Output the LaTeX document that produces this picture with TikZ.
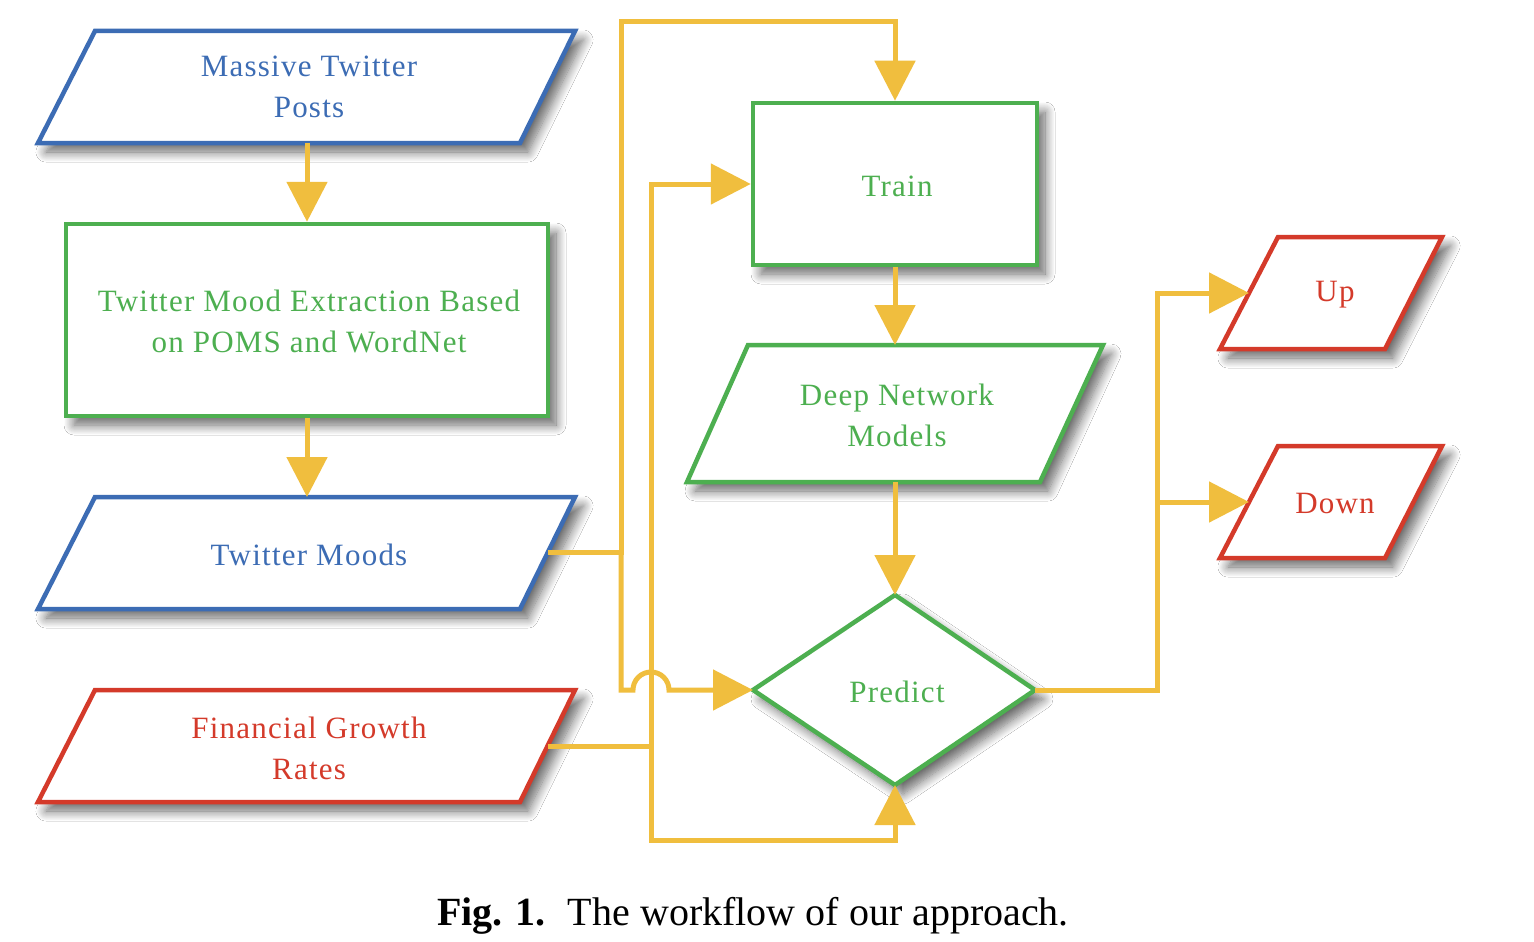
\documentclass[tikz,border=0pt]{standalone}
\usepackage{fontspec}
\setmainfont{Liberation Serif}
\usetikzlibrary{arrows.meta,shadows.blur}
\definecolor{cy}{HTML}{F0BE3E}
\definecolor{cb}{HTML}{3C6CB4}
\definecolor{cg}{HTML}{4DAF50}
\definecolor{cr}{HTML}{D43A2A}
\tikzset{
  shp/.style={line width=4.5pt, fill=white, line join=miter,
    blur shadow={shadow xshift=8pt, shadow yshift=-9pt, shadow blur radius=10pt, shadow blur steps=12, shadow opacity=60}},
  lbl/.style={font=\fontsize{31}{41}\selectfont\addfontfeature{LetterSpace=4}, align=center, inner sep=0pt},
  conn/.style={draw=cy, line width=5pt},
  arr/.style={conn, -{Triangle[length=40pt,width=40pt]}}
}
\begin{document}
\begin{tikzpicture}[x=1pt,y=-1pt]
\useasboundingbox[fill=white] (0,0) rectangle (1534,942);
% shapes
\draw[shp, draw=cb] (95,31) -- (575,31) -- (520,143) -- (38,143) -- cycle;
\node[lbl, text=cb] (mtp) at (309,87) {Massive Twitter\\Posts};
\node[shp, draw=cg, minimum width=482pt, minimum height=192pt, inner sep=0pt] (ext) at (307,320) {};
\node[lbl, text=cg] (extt) at (309,321) {Twitter Mood Extraction Based\\on POMS and WordNet};
\draw[shp, draw=cb] (95,497) -- (575,497) -- (520,609) -- (38,609) -- cycle;
\node[lbl, text=cb] (tm) at (309,555) {Twitter Moods};
\draw[shp, draw=cr] (95,690) -- (575,690) -- (520,802) -- (38,802) -- cycle;
\node[lbl, text=cr] (fgr) at (309,748) {Financial Growth\\Rates};
\node[shp, draw=cg, minimum width=284pt, minimum height=162pt, inner sep=0pt] (train) at (895,184) {};
\node[lbl, text=cg] (traint) at (897,186) {Train};
\draw[shp, draw=cg] (748,345) -- (1103,345) -- (1040,482) -- (687,482) -- cycle;
\node[lbl, text=cg] (dnm) at (897,415) {Deep Network\\Models};
\draw[shp, draw=cg] (895,595) -- (1035,690) -- (895,785) -- (753,690) -- cycle;
\node[lbl, text=cg] (pred) at (897,692) {Predict};
\draw[shp, draw=cr] (1278,237) -- (1442,237) -- (1385,349) -- (1220,349) -- cycle;
\node[lbl, text=cr] (up) at (1335,295) {Up};
\draw[shp, draw=cr] (1278,446) -- (1442,446) -- (1385,558) -- (1220,558) -- cycle;
\node[lbl, text=cr] (down) at (1335,503) {Down};
% attachment points
\coordinate (mtpB) at (307,143);
\coordinate (tmT) at (307,497);
\coordinate (tmR) at (548,552);
\coordinate (fgrR) at (548,746);
\coordinate (dnmT) at (895,345);
\coordinate (dnmB) at (895,482);
\coordinate (predT) at (895,595);
\coordinate (predL) at (753,690);
\coordinate (predR) at (1035,690);
\coordinate (predB) at (895,785);
\coordinate (upL) at (1249,293);
\coordinate (downL) at (1249,502);
\coordinate (jT) at (621,552);
\coordinate (jF) at (651,746);
\coordinate (jP) at (1157,502);
% connectors
\draw[arr] (mtpB) -- (ext.north);
\draw[arr] (ext.south) -- (tmT);
\draw[arr] (tmR) -- (jT) -- (621,22) -- (895,22) -- (train.north);
\draw[conn] (fgrR) -- (jF);
\draw[arr] (jF) -- (651,184) -- (train.west);
\draw[arr] (jF) -- (651,840) -- (895,840) -- (predB);
\draw[arr] (jT) -- (621,690) -- (633,690) arc[start angle=180,end angle=360,radius=18] -- (predL);
\draw[arr] (train.south) -- (dnmT);
\draw[arr] (dnmB) -- (predT);
\draw[arr] (predR) -- (1157,690) -- (1157,293) -- (upL);
\draw[arr] (jP) -- (downL);
% caption
\node[font=\fontsize{40}{46}\selectfont, anchor=base] (cap) at (753,925) {\textbf{Fig. 1.}\hspace{0.55em}The workflow of our approach.};
\end{tikzpicture}
\end{document}
